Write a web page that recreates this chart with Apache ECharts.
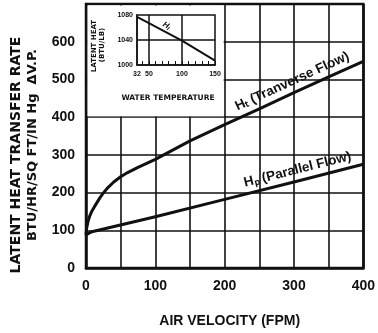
<!DOCTYPE html>
<html><head><meta charset="utf-8">
<script src="https://cdn.jsdelivr.net/npm/echarts@6.0.0/dist/echarts.min.js"></script>
<style>html,body{margin:0;padding:0;background:#fff}#c{width:378px;height:333px}</style>
</head><body><div id="c"></div>
<script>
// Main chart data
const velocity = [0, 1, 3, 5, 8, 12, 16, 20, 25, 32, 40, 50, 60, 75, 100, 150, 200, 250, 300, 350, 400];
const transverse = [88, 106, 124, 136, 149, 162, 174, 186, 199, 214, 228, 242, 253, 267, 288, 337, 380, 422, 465, 507, 548];
const velocityP = [0, 5, 10, 100, 200, 300, 400];
const parallel = [88, 93, 97, 136, 182, 228, 275];
// Inset data
const waterTemp = [32, 50, 100, 150];
const latentHeat = [1077, 1067, 1039, 1007];
const insetXLabels = [32, 50, 100, 150];
const insetXTicks = [40, 50, 60, 70, 80, 90, 100, 110, 120, 130, 140, 150];
const insetYLabels = [1000, 1040, 1080];
const insetGridX = [50, 100];
const insetGridY = [1040];

const INK = '#111';
const FONT = 'Liberation Sans, Arial, sans-serif';
const WIDE = 'DejaVu Sans, sans-serif';
const chart = echarts.init(document.getElementById('c'), null, {renderer: 'canvas'});

const option = {
  animation: false,
  backgroundColor: '#fff',
  grid: [
    {left: 86, right: 12, top: 4, bottom: 63, show: true, borderColor: INK, borderWidth: 2.5, z: 0},
    {left: 137, width: 78, top: 15, height: 50, show: true, borderColor: INK, borderWidth: 1.5, z: 5}
  ],
  xAxis: [
    {
      type: 'value', gridIndex: 0, min: 0, max: 400, interval: 100, z: 0,
      axisLine: {show: true, lineStyle: {color: INK, width: 2.5}},
      axisTick: {show: false},
      minorTick: {show: false, splitNumber: 2},
      axisLabel: {color: INK, fontSize: 14, fontWeight: 'bold', fontFamily: FONT, margin: 11},
      splitLine: {show: true, lineStyle: {color: INK, width: 1.6}},
      minorSplitLine: {show: true, lineStyle: {color: INK, width: 1.6}},
      name: 'AIR VELOCITY (FPM)', nameLocation: 'middle', nameGap: 46,
      nameTextStyle: {color: INK, fontSize: 14, fontWeight: 'bold', fontFamily: FONT, padding: [0, 0, 0, 10]}
    },
    {
      type: 'value', gridIndex: 1, min: 32, max: 150, z: 5,
      axisLine: {show: true, lineStyle: {color: INK, width: 1.5}},
      axisTick: {show: true, inside: true, length: 4, customValues: insetXTicks, lineStyle: {color: INK, width: 1}},
      axisLabel: {customValues: insetXLabels, color: INK, fontSize: 7, fontWeight: 'bold', fontFamily: FONT, margin: 6},
      splitLine: {show: false}
    }
  ],
  yAxis: [
    {
      type: 'value', gridIndex: 0, min: 0, max: 700, interval: 100, z: 0,
      axisLine: {show: true, lineStyle: {color: INK, width: 2.5}},
      axisTick: {show: false},
      axisLabel: {color: INK, fontSize: 14, fontWeight: 'bold', fontFamily: FONT, margin: 11,
        formatter: v => (v >= 700 ? '' : String(v))},
      splitLine: {show: true, lineStyle: {color: INK, width: 1.6}}
    },
    {
      type: 'value', gridIndex: 1, min: 1000, max: 1080, interval: 40, z: 5,
      axisLine: {show: true, lineStyle: {color: INK, width: 1.5}},
      axisTick: {show: false},
      axisLabel: {customValues: insetYLabels, color: INK, fontSize: 7, fontWeight: 'bold', fontFamily: FONT, margin: 4,
        formatter: v => String(v)},
      splitLine: {show: false}
    }
  ],
  series: [
    {
      type: 'line', xAxisIndex: 0, yAxisIndex: 0, z: 3,
      data: velocity.map((v, i) => [v, transverse[i]]),
      smooth: false, showSymbol: false,
      lineStyle: {color: INK, width: 3, join: 'round'}
    },
    {
      type: 'line', xAxisIndex: 0, yAxisIndex: 0, z: 3,
      data: velocityP.map((v, i) => [v, parallel[i]]),
      smooth: false, showSymbol: false,
      lineStyle: {color: INK, width: 3, join: 'round'}
    },
    {
      type: 'line', xAxisIndex: 1, yAxisIndex: 1, z: 7,
      data: waterTemp.map((v, i) => [v, latentHeat[i]]),
      showSymbol: false, lineStyle: {color: INK, width: 2},
      markLine: {
        silent: true, symbol: 'none', label: {show: false}, z: 6,
        lineStyle: {color: INK, width: 1.5, type: 'solid'},
        data: insetGridX.map(v => ({xAxis: v})).concat(insetGridY.map(v => ({yAxis: v})))
      }
    }
  ]
};
chart.setOption(option);

function px(gi, pt) { return chart.convertToPixel({gridIndex: gi}, pt); }
function interp(xs, ys, x) {
  for (let i = 1; i < xs.length; i++) {
    if (x <= xs[i]) { const t = (x - xs[i-1]) / (xs[i] - xs[i-1]); return ys[i-1] + t * (ys[i] - ys[i-1]); }
  }
  return ys[ys.length - 1];
}
// place a label parallel to a line segment, lifted perpendicular by `lift` pixels
function along(gi, xs, ys, xc, x1, x2, lift) {
  const a = px(gi, [x1, interp(xs, ys, x1)]), b = px(gi, [x2, interp(xs, ys, x2)]);
  const c = px(gi, [xc, interp(xs, ys, xc)]);
  const dx = b[0] - a[0], dy = b[1] - a[1], L = Math.hypot(dx, dy);
  const nx = dy / L, ny = -dx / L; // upward normal on screen
  return {x: c[0] + nx * lift, y: c[1] + ny * lift, rotation: Math.atan2(-dy, dx)};
}

const tl = px(0, [0, 700]), br = px(0, [200, 400]);
const tPos = along(0, velocity, transverse, 304, 200, 400, 11);
const pPos = along(0, velocityP, parallel, 309, 200, 400, 11);
const iPos = along(1, waterTemp, latentHeat, 72, 50, 150, 6);

function label(pos, text, font) {
  return {type: 'text', z: 10, x: pos.x, y: pos.y, rotation: pos.rotation,
    style: {text: text, fill: INK, font: font, align: 'center', verticalAlign: 'middle'}};
}
function vtext(x, y, text, font) {
  return {type: 'text', z: 10, x: x, y: y, rotation: Math.PI / 2,
    style: {text: text, fill: INK, font: font, align: 'center', verticalAlign: 'middle'}};
}

chart.setOption({
  graphic: [
    {type: 'rect', z: 1, silent: true,
     shape: {x: tl[0] + 1.5, y: tl[1] + 1.5, width: br[0] - tl[0] - 2.5, height: br[1] - tl[1] - 2.5},
     style: {fill: '#fff'}},
    vtext(16, 155, 'LATENT HEAT TRANSFER RATE', 'bold 14px ' + WIDE),
    vtext(33, 145, 'BTU/HR/SQ FT/IN Hg  \u0394V.P.', 'bold 13px ' + WIDE),
    vtext(94, 46, 'LATENT HEAT', 'bold 7px ' + WIDE),
    vtext(102, 45, '(BTU/LB)', 'bold 7px ' + WIDE),
    {type: 'text', z: 10, x: 168, y: 98,
     style: {text: 'WATER TEMPERATURE', fill: INK, font: 'bold 7.5px ' + WIDE, align: 'center', verticalAlign: 'middle'}},
    label(iPos, 'H\u2097', 'bold italic 8px ' + FONT),
    label(tPos, 'H\u209C (Tranverse Flow)', 'bold 13.5px ' + FONT),
    label(pPos, 'H\u209A (Parallel Flow)', 'bold 13.5px ' + FONT)
  ]
});
</script></body></html>
